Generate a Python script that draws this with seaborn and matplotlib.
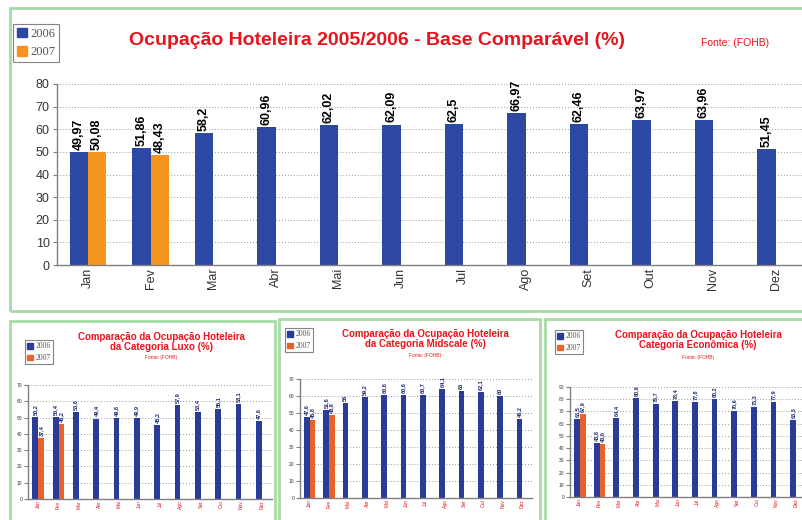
import pandas as pd
import matplotlib
matplotlib.use("Agg")
import matplotlib.pyplot as plt
import matplotlib.patches as mpatches
import seaborn as sns

sns.set_style("white")
plt.rcParams['font.family'] = ['Liberation Sans', 'DejaVu Sans']

# Dados
meses = ["Jan", "Fev", "Mar", "Abr", "Mai", "Jun", "Jul", "Ago", "Set", "Out", "Nov", "Dez"]
anos = ["2006", "2007"]

geral_2006 = [49.97, 51.86, 58.2, 60.96, 62.02, 62.09, 62.5, 66.97, 62.46, 63.97, 63.96, 51.45]
geral_2007 = [50.08, 48.43]

luxo_2006 = [50.2, 50.4, 53.6, 49.4, 49.8, 49.9, 45.2, 57.9, 53.4, 55.1, 58.1, 47.6]
luxo_2007 = [37.4, 46.2]

mid_2006 = [47.6, 51.6, 56.0, 59.2, 60.8, 60.6, 60.7, 64.1, 63.0, 62.1, 60.0, 46.2]
mid_2007 = [45.8, 48.8]

eco_2006 = [63.5, 43.8, 64.4, 80.6, 75.7, 78.4, 77.8, 80.2, 70.6, 73.3, 77.9, 63.3]
eco_2007 = [67.9, 43.6]

W, H = 802, 520
RED = "#e8141c"
GREEN = "#a6dca6"


def make_df(v06, v07):
    rows = []
    for i, m in enumerate(meses):
        rows.append({"mes": m, "ano": "2006", "valor": v06[i]})
        if i < len(v07):
            rows.append({"mes": m, "ano": "2007", "valor": v07[i]})
    return pd.DataFrame(rows)


def fig_box(x0, y0, x1, y1):
    # pixel coords (top-left origin) -> figure fraction
    return [x0 / W, 1 - y1 / H, (x1 - x0) / W, (y1 - y0) / H]


def fmt(v):
    return f"{v:g}".replace(".", ",")


def draw_panel(ax, v06, v07, colors, ymax, ystep, small=False):
    df = make_df(v06, v07)
    sns.barplot(data=df, x="mes", y="valor", hue="ano", order=meses, hue_order=anos,
                palette=colors, width=0.58, errorbar=None, ax=ax, legend=False,
                saturation=1, linewidth=0)
    ax.set_ylim(0, ymax)
    ax.set_xlim(-0.5, 11.5)
    ax.set_yticks(range(0, ymax + 1, ystep))
    ax.set_xlabel("")
    ax.set_ylabel("")
    ax.yaxis.grid(True, linestyle=(0, (1, 2)), color="#9a9a9a", linewidth=0.7)
    ax.set_axisbelow(True)
    for s in ["top", "right"]:
        ax.spines[s].set_visible(False)
    for s in ["left", "bottom"]:
        ax.spines[s].set_color("#808080")
        ax.spines[s].set_linewidth(1.0)
    ax.set_xticks([i - 0.5 for i in range(13)], minor=True)
    ax.tick_params(axis="x", which="major", length=0, rotation=90)
    ax.tick_params(axis="x", which="minor", length=3, color="#808080", direction="out")
    ax.tick_params(axis="y", length=3, color="#808080", direction="out", left=True)
    if small:
        ax.tick_params(axis="both", labelsize=3.5, pad=1)
        for lab in ax.get_xticklabels():
            lab.set_color(RED)
        for lab in ax.get_yticklabels():
            lab.set_color("#333333")
        lab_size, lab_col = 4, "#1c2a6e"
    else:
        ax.tick_params(axis="both", labelsize=9, pad=2, labelcolor="#333333")
        lab_size, lab_col = 9, "black"
    for cont in ax.containers:
        labels = [fmt(b.get_height()) for b in cont]
        ax.bar_label(cont, labels=labels, rotation=90, padding=1.5, fontsize=lab_size,
                     fontweight="bold", color=lab_col, clip_on=False)


def add_legend(fig, box, colors, fontsize):
    handles = [mpatches.Patch(color=c, label=a) for c, a in zip(colors, anos)]
    x0, y0, w, h = fig_box(*box)
    leg = fig.legend(handles=handles, loc="upper left", bbox_to_anchor=(x0, y0 + h),
                     bbox_transform=fig.transFigure, frameon=True, fancybox=False,
                     handlelength=0.8, handleheight=0.8,
                     handletextpad=0.3, borderpad=0.3, labelspacing=0.5,
                     borderaxespad=0, prop={"family": "Liberation Serif", "size": fontsize})
    leg.get_frame().set_edgecolor("#666666")
    leg.get_frame().set_linewidth(0.8)
    for t in leg.get_texts():
        t.set_color("#555555")


fig = plt.figure(figsize=(W / 100, H / 100), dpi=100)
fig.patch.set_facecolor("white")

# molduras verdes
for (x0, y0, x1, y1) in [(10, 8, 806, 311), (10, 321, 275, 526), (279, 319, 540, 526), (545, 319, 806, 526)]:
    b = fig_box(x0, y0, x1, y1)
    fig.add_artist(mpatches.Rectangle((b[0], b[1]), b[2], b[3], transform=fig.transFigure,
                                      fill=False, edgecolor=GREEN, linewidth=2))

# grafico principal
main_colors = ["#2c48a3", "#f7941d"]
ax = fig.add_axes(fig_box(56.75, 84, 806.75, 265))
draw_panel(ax, geral_2006, geral_2007, main_colors, 80, 10)
add_legend(fig, (13, 24, 60, 64), main_colors, 9)
fig.text(377 / W, 1 - 41 / H, "Ocupação Hoteleira 2005/2006 - Base Comparável (%)",
         ha="center", va="center", color=RED, fontsize=14, fontweight="bold")
fig.text(735 / W, 1 - 43 / H, "Fonte: (FOHB)", ha="center", va="center", color=RED, fontsize=7.5)

# graficos pequenos
small_colors = ["#2b3c98", "#e8632b"]
paineis = [
    (luxo_2006, luxo_2007, (28, 385, 272, 499), 70, 10, (25, 340, 58, 367),
     "Comparação da Ocupação Hoteleira\nda Categoria Luxo (%)", 161, 342, 357),
    (mid_2006, mid_2007, (300, 379, 532, 498), 70, 10, (285, 328, 325, 362),
     "Comparação da Ocupação Hoteleira\nda Categoria Midscale (%)", 425, 339, 355),
    (eco_2006, eco_2007, (570, 387, 806, 497), 90, 10, (555, 330, 597, 365),
     "Comparação da Ocupação Hoteleira\nCategoria Econômica (%)", 698, 340, 358),
]
for v06, v07, box, ymax, ystep, lbox, titulo, tx, ty, fy in paineis:
    sax = fig.add_axes(fig_box(*box))
    draw_panel(sax, v06, v07, small_colors, ymax, ystep, small=True)
    add_legend(fig, lbox, small_colors, 5.5)
    fig.text(tx / W, 1 - ty / H, titulo, ha="center", va="center", color=RED,
             fontsize=7, fontweight="bold", linespacing=1.1)
    fig.text(tx / W, 1 - fy / H, "Fonte: (FOHB)", ha="center", va="center",
             color=RED, fontsize=3.5)

fig.savefig("out.png", dpi=100)
